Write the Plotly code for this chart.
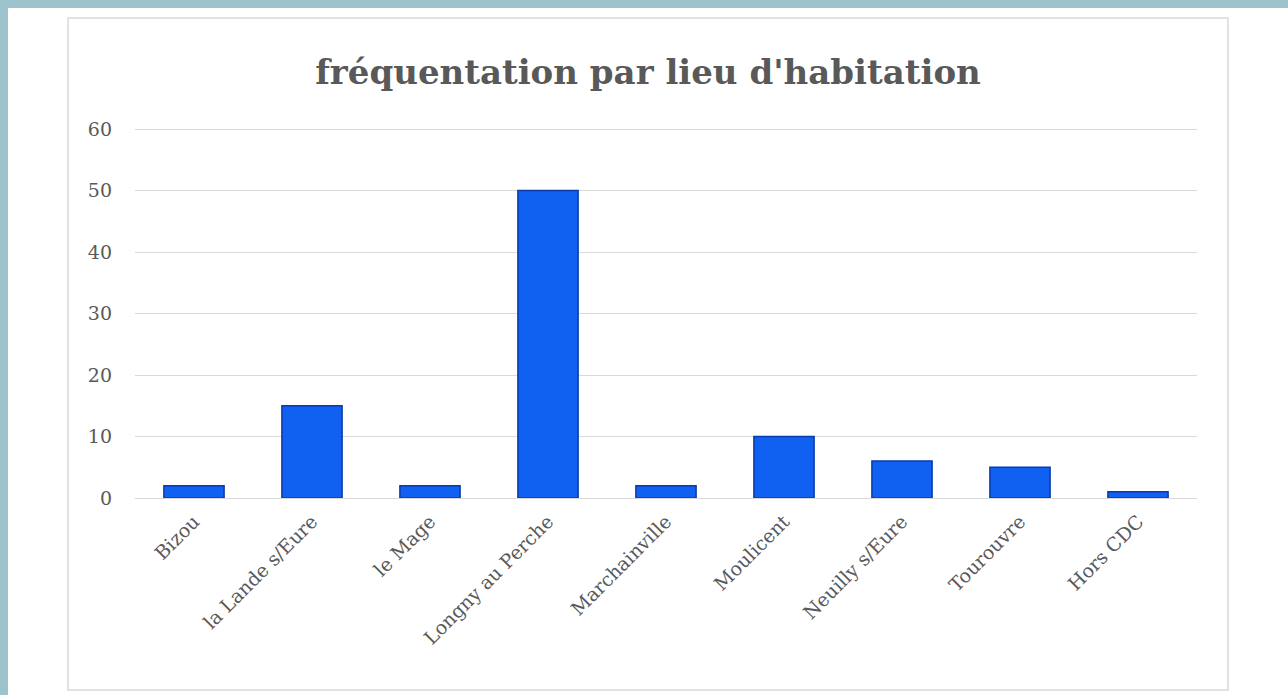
import plotly.graph_objects as go

categories = ["Bizou", "la Lande s/Eure", "le Mage", "Longny au Perche", "Marchainville",
              "Moulicent", "Neuilly s/Eure", "Tourouvre", "Hors CDC"]
values = [2, 15, 2, 50, 2, 10, 6, 5, 1]
y_ticks = [0, 10, 20, 30, 40, 50, 60]

W, H = 1288, 695
L, R, T, B = 135, 1197, 126, 498
Y_TOP = 60 + 3 * 60 / (B - 129)  # small headroom so the top gridline is drawn

fig = go.Figure()
fig.add_trace(go.Bar(
    x=categories, y=values,
    marker=dict(color="#1061f2", line=dict(color="#0a3aa8", width=1.5)),
    width=0.51,
))

def px(x):
    return (x - L) / (R - L)

def py(y):
    return (B - y) / (B - T)

shapes = [
    dict(type="rect", xref="paper", yref="paper", x0=px(0), x1=px(W), y0=py(8), y1=py(0),
         fillcolor="#9dc3cd", line=dict(width=0), layer="below"),
    dict(type="rect", xref="paper", yref="paper", x0=px(0), x1=px(8), y0=py(H), y1=py(0),
         fillcolor="#9dc3cd", line=dict(width=0), layer="below"),
    dict(type="rect", xref="paper", yref="paper", x0=px(68), x1=px(1228), y0=py(690), y1=py(18),
         fillcolor="rgba(0,0,0,0)", line=dict(color="#d9d9d9", width=1.5), layer="below"),
]

fig.update_layout(
    width=W, height=H,
    margin=dict(l=L, r=W - R, t=T, b=H - B, pad=0),
    paper_bgcolor="white", plot_bgcolor="white",
    shapes=shapes,
    showlegend=False,
    title=dict(text="<b>fréquentation par lieu d'habitation</b>",
               font=dict(family="DejaVu Serif", size=34, color="#595959"),
               x=648 / W, xanchor="center", y=1 - 72 / H, yanchor="middle"),
    font=dict(family="DejaVu Serif", color="#595959", size=18),
)
fig.update_yaxes(range=[0, Y_TOP], tickvals=y_ticks, showgrid=True, gridcolor="#d9d9d9", gridwidth=1,
                 zeroline=False, showline=False, ticks="", ticklabelstandoff=22,
                 tickfont=dict(family="DejaVu Serif", size=19, color="#595959"))
fig.update_xaxes(showgrid=False, showline=True, linecolor="#d9d9d9", linewidth=1, ticks="",
                 tickangle=-45, ticklabelstandoff=4,
                 tickfont=dict(family="DejaVu Serif", size=19, color="#595959"))

fig.write_html("out.html", config={"displayModeBar": False},
               post_script="document.body.style.margin='0';")
